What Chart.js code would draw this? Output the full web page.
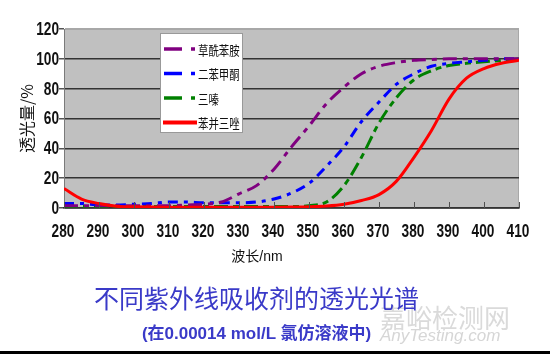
<!DOCTYPE html>
<html>
<head>
<meta charset="utf-8">
<script src="https://cdn.jsdelivr.net/npm/chart.js@4"></script>
<style>
  body { margin: 0; background: #fff; }
  #page { position: relative; width: 550px; height: 354px; overflow: hidden; background: #fff; }
  #page canvas { position: absolute; left: 0; top: 0; }
  .txt { position: absolute; white-space: nowrap; }
  #xtitle { left: 197px; width: 120px; top: 245px; line-height: 16px; text-align: center;
            font: 14px "Liberation Sans", "Noto Sans CJK SC", sans-serif; color: #111; }
  #title { left: 0; width: 513px; top: 279px; line-height: 30px; text-align: center;
           font: 25px "Noto Sans CJK SC", sans-serif; color: #3a3ac8; }
  #subtitle { left: 0; width: 513px; top: 319px; line-height: 20px; text-align: center;
              font: bold 17px "Liberation Sans", "Noto Sans CJK SC", sans-serif; color: #3a3ac8; }
  #wm1 { left: 380px; top: 298px; line-height: 30px; font: 26px "Noto Sans CJK SC", sans-serif; color: #dadada; }
  #wm2 { left: 380px; top: 326px; line-height: 20px; font: italic 17px "Liberation Sans", sans-serif; color: #d6d6d6; }
  #strip { left: 0; top: 351px; width: 550px; height: 3px; background: #000; }
</style>
</head>
<body>
<div id="page">
  <canvas id="myChart" width="550" height="354"></canvas>
  <div class="txt" id="xtitle">波长/nm</div>
  <div class="txt" id="wm1">嘉峪检测网</div>
  <div class="txt" id="wm2">AnyTesting.com</div>
  <div class="txt" id="title">不同紫外线吸收剂的透光光谱</div>
  <div class="txt" id="subtitle">(在0.00014 mol/L 氯仿溶液中)</div>
  <div class="txt" id="strip"></div>
</div>
<script>
// data, every 5 nm ---------------------------------------------------------
const wavelength = [280, 285, 290, 295, 300, 305, 310, 315, 320, 325, 330, 335, 340, 345,
                    350, 355, 360, 365, 370, 375, 380, 385, 390, 395, 400, 405, 410];

const oxanilide = [1.5, 1.5, 1.5, 1.5, 1.5, 1.5, 1.5, 2, 2.5, 4, 9.5, 15, 26, 41,
                   55, 70, 81, 90, 95, 97.5, 99, 99.5, 100, 100, 100, 100, 100];     // 草酰苯胺
const benzophenone = [3, 3, 2, 2, 2.5, 3, 4, 4, 3.5, 3.5, 3.5, 4, 6, 10,
                      16.5, 28, 41, 58, 71, 83, 90, 95, 97, 98, 99, 100, 100];     // 二苯甲酮
const triazine = [1, 1, 1, 1, 1, 1, 1, 1, 1, 1, 1, 1, 1, 1,
                  1.5, 4, 15, 34, 57, 74, 86, 92, 95.5, 97, 98, 99, 100];            // 三嗪
const benzotriazole = [13, 6, 3, 1.2, 0.8, 0.6, 0.5, 0.5, 0.5, 0.5, 0.5, 0.5, 0.5, 0.6,
                       0.8, 1.3, 2.5, 5, 9, 18, 34, 52, 73, 87, 93.5, 97, 99];        // 苯并三唑

const seriesNames = ['草酰苯胺', '二苯甲酮', '三嗪', '苯并三唑'];
const seriesColors = ['#800080', '#0000ff', '#008000', '#ff0000'];

const yTicks = [0, 20, 40, 60, 80, 100, 120];

function toPoints(values) {
  return values.map((v, i) => ({ x: wavelength[i], y: v }));
}

// plugins -------------------------------------------------------------------
const plotBackground = {
  id: 'plotBackground',
  beforeDraw(chart) {
    const { ctx, chartArea: a } = chart;
    ctx.save();
    ctx.fillStyle = '#c0c0c0';
    ctx.fillRect(a.left, a.top, a.right - a.left, a.bottom - a.top);
    ctx.strokeStyle = '#a8a8a8';
    ctx.lineWidth = 1;
    ctx.strokeRect(a.left + 0.5, a.top + 0.5, a.right - a.left - 1, a.bottom - a.top);
    ctx.restore();
  }
};

// small tick marks standing inside the plot on the x axis
const innerTicks = {
  id: 'innerTicks',
  afterDraw(chart) {
    const { ctx, chartArea: a } = chart;
    const xs = chart.scales.x;
    ctx.save();
    ctx.strokeStyle = '#505050';
    ctx.lineWidth = 1;
    xs.ticks.forEach(t => {
      const px = Math.round(xs.getPixelForValue(t.value)) + 0.5;
      ctx.beginPath();
      ctx.moveTo(px, a.bottom);
      ctx.lineTo(px, a.bottom - 6);
      ctx.stroke();
    });
    ctx.restore();
  }
};

// tick labels in a narrow bold face (no Arial Narrow here, so squeeze Liberation Sans)
function narrowText(ctx, text, x, y, align) {
  ctx.save();
  ctx.translate(x, y);
  ctx.scale(0.76, 1);
  ctx.textAlign = align;
  ctx.textBaseline = 'middle';
  ctx.fillText(text, 0, 0);
  ctx.restore();
}

const narrowTickLabels = {
  id: 'narrowTickLabels',
  afterDraw(chart) {
    const { ctx, chartArea: a } = chart;
    const xs = chart.scales.x, ys = chart.scales.y;
    ctx.save();
    ctx.fillStyle = '#111';
    ctx.font = "bold 18px 'Liberation Sans', Arial, sans-serif";
    xs.ticks.forEach(t => {
      narrowText(ctx, String(t.value), xs.getPixelForValue(t.value) - 1, a.bottom + 24, 'center');
    });
    ys.ticks.forEach(t => {
      narrowText(ctx, String(t.value), a.left - 5, ys.getPixelForValue(t.value) + 1, 'right');
    });
    ctx.restore();
  }
};

// boxed legend sitting inside the plot
const boxLegend = {
  id: 'boxLegend',
  afterDraw(chart) {
    const { ctx, chartArea: a } = chart;
    const x0 = a.left + 96, y0 = a.top + 4, w = 82, h = 99;
    ctx.save();
    ctx.fillStyle = '#fff';
    ctx.fillRect(x0, y0, w, h);
    ctx.strokeStyle = '#999';
    ctx.lineWidth = 1;
    ctx.strokeRect(x0 + 0.5, y0 + 0.5, w, h);
    chart.data.datasets.forEach((ds, i) => {
      const y = y0 + 16 + i * 24.5;
      ctx.strokeStyle = ds.borderColor;
      ctx.lineCap = 'butt';
      ctx.beginPath();
      if (ds.borderDash && ds.borderDash.length) {
        ctx.lineWidth = 3.5;
        ctx.moveTo(x0 + 4, y); ctx.lineTo(x0 + 22, y);
        ctx.stroke();
        ctx.beginPath();
        ctx.moveTo(x0 + 31, y); ctx.lineTo(x0 + 35, y);
      } else {
        ctx.lineWidth = 4;
        ctx.moveTo(x0 + 3, y); ctx.lineTo(x0 + 37, y);
      }
      ctx.stroke();
      ctx.save();
      ctx.translate(x0 + 38, y);
      ctx.scale(0.8, 1);
      ctx.fillStyle = '#111';
      ctx.font = "13px 'Noto Sans CJK SC', sans-serif";
      ctx.textBaseline = 'middle';
      ctx.fillText(ds.label, 0, 1);
      ctx.restore();
    });
    ctx.restore();
  }
};

// chart -----------------------------------------------------------------------
const allSeries = [oxanilide, benzophenone, triazine, benzotriazole];
const dashes = [[14, 6, 5, 6], [10, 6, 4, 6], [14, 5, 6, 5], []];

const datasets = allSeries.map((vals, i) => ({
  label: seriesNames[i],
  data: toPoints(vals),
  borderColor: seriesColors[i],
  backgroundColor: seriesColors[i],
  borderWidth: 3,
  borderDash: dashes[i],
  pointRadius: 0,
  cubicInterpolationMode: 'monotone',
  fill: false,
  order: i === 3 ? -1 : i
}));

const ctx = document.getElementById('myChart').getContext('2d');
const myChart = new Chart(ctx, {
  type: 'line',
  data: { datasets: datasets },
  options: {
    responsive: false,
    animation: false,
    events: [],
    layout: { padding: { left: 0, top: 29, right: 31, bottom: 106 } },
    plugins: { legend: { display: false }, tooltip: { enabled: false } },
    scales: {
      x: {
        type: 'linear',
        min: 280,
        max: 410,
        afterFit: s => { s.height = 40; },
        ticks: { stepSize: 10, display: false },
        grid: { drawOnChartArea: false, drawTicks: false },
        border: { color: '#333', width: 1.5 }
      },
      y: {
        min: 0,
        max: 120,
        afterFit: s => { s.width = 64; },
        afterBuildTicks: s => { s.ticks = yTicks.map(v => ({ value: v })); },
        ticks: { display: false },
        grid: {
          color: c => (c.tick && c.tick.value === 120 ? '#a8a8a8' : '#333'),
          lineWidth: 1.5,
          tickLength: 5,
          tickColor: '#555'
        },
        border: { color: '#7a7a7a', width: 1 },
        title: {
          display: true,
          text: '透光量/%',
          color: '#111',
          padding: { top: 17, bottom: 0 },
          font: { family: "'Noto Sans CJK SC', sans-serif", size: 16 }
        }
      }
    }
  },
  plugins: [plotBackground, innerTicks, narrowTickLabels, boxLegend]
});
</script>
</body>
</html>
